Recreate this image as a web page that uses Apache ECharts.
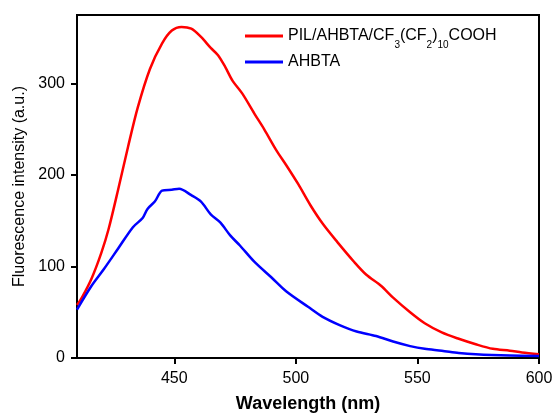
<!DOCTYPE html>
<html>
<head>
<meta charset="utf-8">
<script src="https://cdn.jsdelivr.net/npm/echarts@6/dist/echarts.min.js"></script>
<style>
	html, body { margin: 0; padding: 0; background: #fff; }
	#chart { width: 555px; height: 413px; }
</style>
</head>
<body>
<div id="chart"></div>
<script>
	// wavelength (nm) / intensity pairs
	var redWave = [410, 412, 416, 420, 423, 427, 431, 435, 440, 445, 449, 453, 457, 461, 465, 468, 471, 474, 478, 483, 487, 492, 496, 501, 506, 511, 517, 524, 529, 535, 540, 547, 553, 560, 567, 574, 581, 588, 593, 600];
	var redVal = [58, 66, 87, 115, 141, 185, 231, 274, 316, 344, 358, 362, 360, 351, 339, 331, 318, 303, 289, 267, 250, 227, 211, 190, 167, 147, 127, 105, 91, 79, 66, 50, 38, 28, 21, 15, 10, 8, 6, 4];
	var blueWave = [410, 416, 421, 427, 433, 437, 439, 442, 445, 449, 452, 457, 461, 465, 469, 473, 477, 483, 490, 496, 505, 511, 518, 525, 533, 540, 547, 553, 560, 567, 574, 588, 600];
	var blueVal = [53, 79, 97, 120, 143, 153, 163, 171, 183, 184, 185, 178, 171, 157, 148, 134, 123, 105, 88, 73, 56, 45, 36, 29, 24, 18, 13, 10, 8, 5.5, 4, 2.6, 2.2];
	var xTicks = [450, 500, 550, 600];

	function pairs(xs, ys) {
		var out = [];
		for (var i = 0; i < xs.length; i++) {
			out.push([xs[i], ys[i]]);
		}
		return out;
	}

	var fontFam = '"Liberation Sans", Arial, sans-serif';
	var myChart = echarts.init(document.getElementById('chart'));
	var option = {
		animation: false,
		textStyle: { fontFamily: fontFam },
		grid: {
			left: 77,
			right: 16,
			top: 15,
			bottom: 55,
			outerBoundsMode: 'none',
			containLabel: false,
			show: true,
			borderColor: '#000',
			borderWidth: 2
		},
		legend: {
			left: 240,
			top: 23,
			orient: 'vertical',
			itemWidth: 38,
			itemHeight: 3,
			itemGap: 4,
			icon: 'rect',
			textStyle: {
				color: '#000',
				fontSize: 16,
				rich: {
					n: { fontSize: 16, lineHeight: 28, color: '#000', fontFamily: fontFam },
					s: { fontSize: 10, lineHeight: 10, verticalAlign: 'bottom', color: '#000', fontFamily: fontFam }
				}
			},
			formatter: function(name) {
				if (name == 'AHBTA') return '{n|AHBTA}';
				return '{n|PIL/AHBTA/CF}{s|3}{n|(CF}{s|2}{n|)}{s|10}{n|COOH}';
			},
			data: ['PIL/AHBTA/CF3(CF2)10COOH', 'AHBTA']
		},
		xAxis: {
			type: 'value',
			min: 410,
			max: 600,
			name: 'Wavelength (nm)',
			nameLocation: 'middle',
			nameGap: 37,
			nameTextStyle: { fontSize: 18, fontWeight: 'bold', color: '#000', fontFamily: fontFam },
			splitLine: { show: false },
			axisLine: { lineStyle: { color: '#000', width: 2 } },
			axisTick: { show: true, length: 6, inside: false, customValues: xTicks, lineStyle: { color: '#000', width: 2 } },
			axisLabel: { customValues: xTicks, fontSize: 16, color: '#000', margin: 13 }
		},
		yAxis: {
			type: 'value',
			min: 0,
			max: 375,
			interval: 100,
			name: 'Fluorescence intensity (a.u.)',
			nameLocation: 'middle',
			nameGap: 48,
			nameTextStyle: { fontSize: 16, color: '#000', fontFamily: fontFam },
			splitLine: { show: false },
			axisLine: { lineStyle: { color: '#000', width: 2 } },
			axisTick: { show: true, length: 6, lineStyle: { color: '#000', width: 2 } },
			axisLabel: {
				fontSize: 16,
				color: '#000',
				margin: 12,
				showMaxLabel: false
			}
		},
		series: [{
			name: 'PIL/AHBTA/CF3(CF2)10COOH',
			type: 'line',
			smooth: 0.3,
			symbol: 'none',
			color: '#ff0000',
			lineStyle: { width: 2.5, color: '#ff0000' },
			data: pairs(redWave, redVal)
		}, {
			name: 'AHBTA',
			type: 'line',
			smooth: 0.3,
			symbol: 'none',
			color: '#0000ff',
			lineStyle: { width: 2.5, color: '#0000ff' },
			data: pairs(blueWave, blueVal)
		}]
	};
	myChart.setOption(option);
</script>
</body>
</html>
